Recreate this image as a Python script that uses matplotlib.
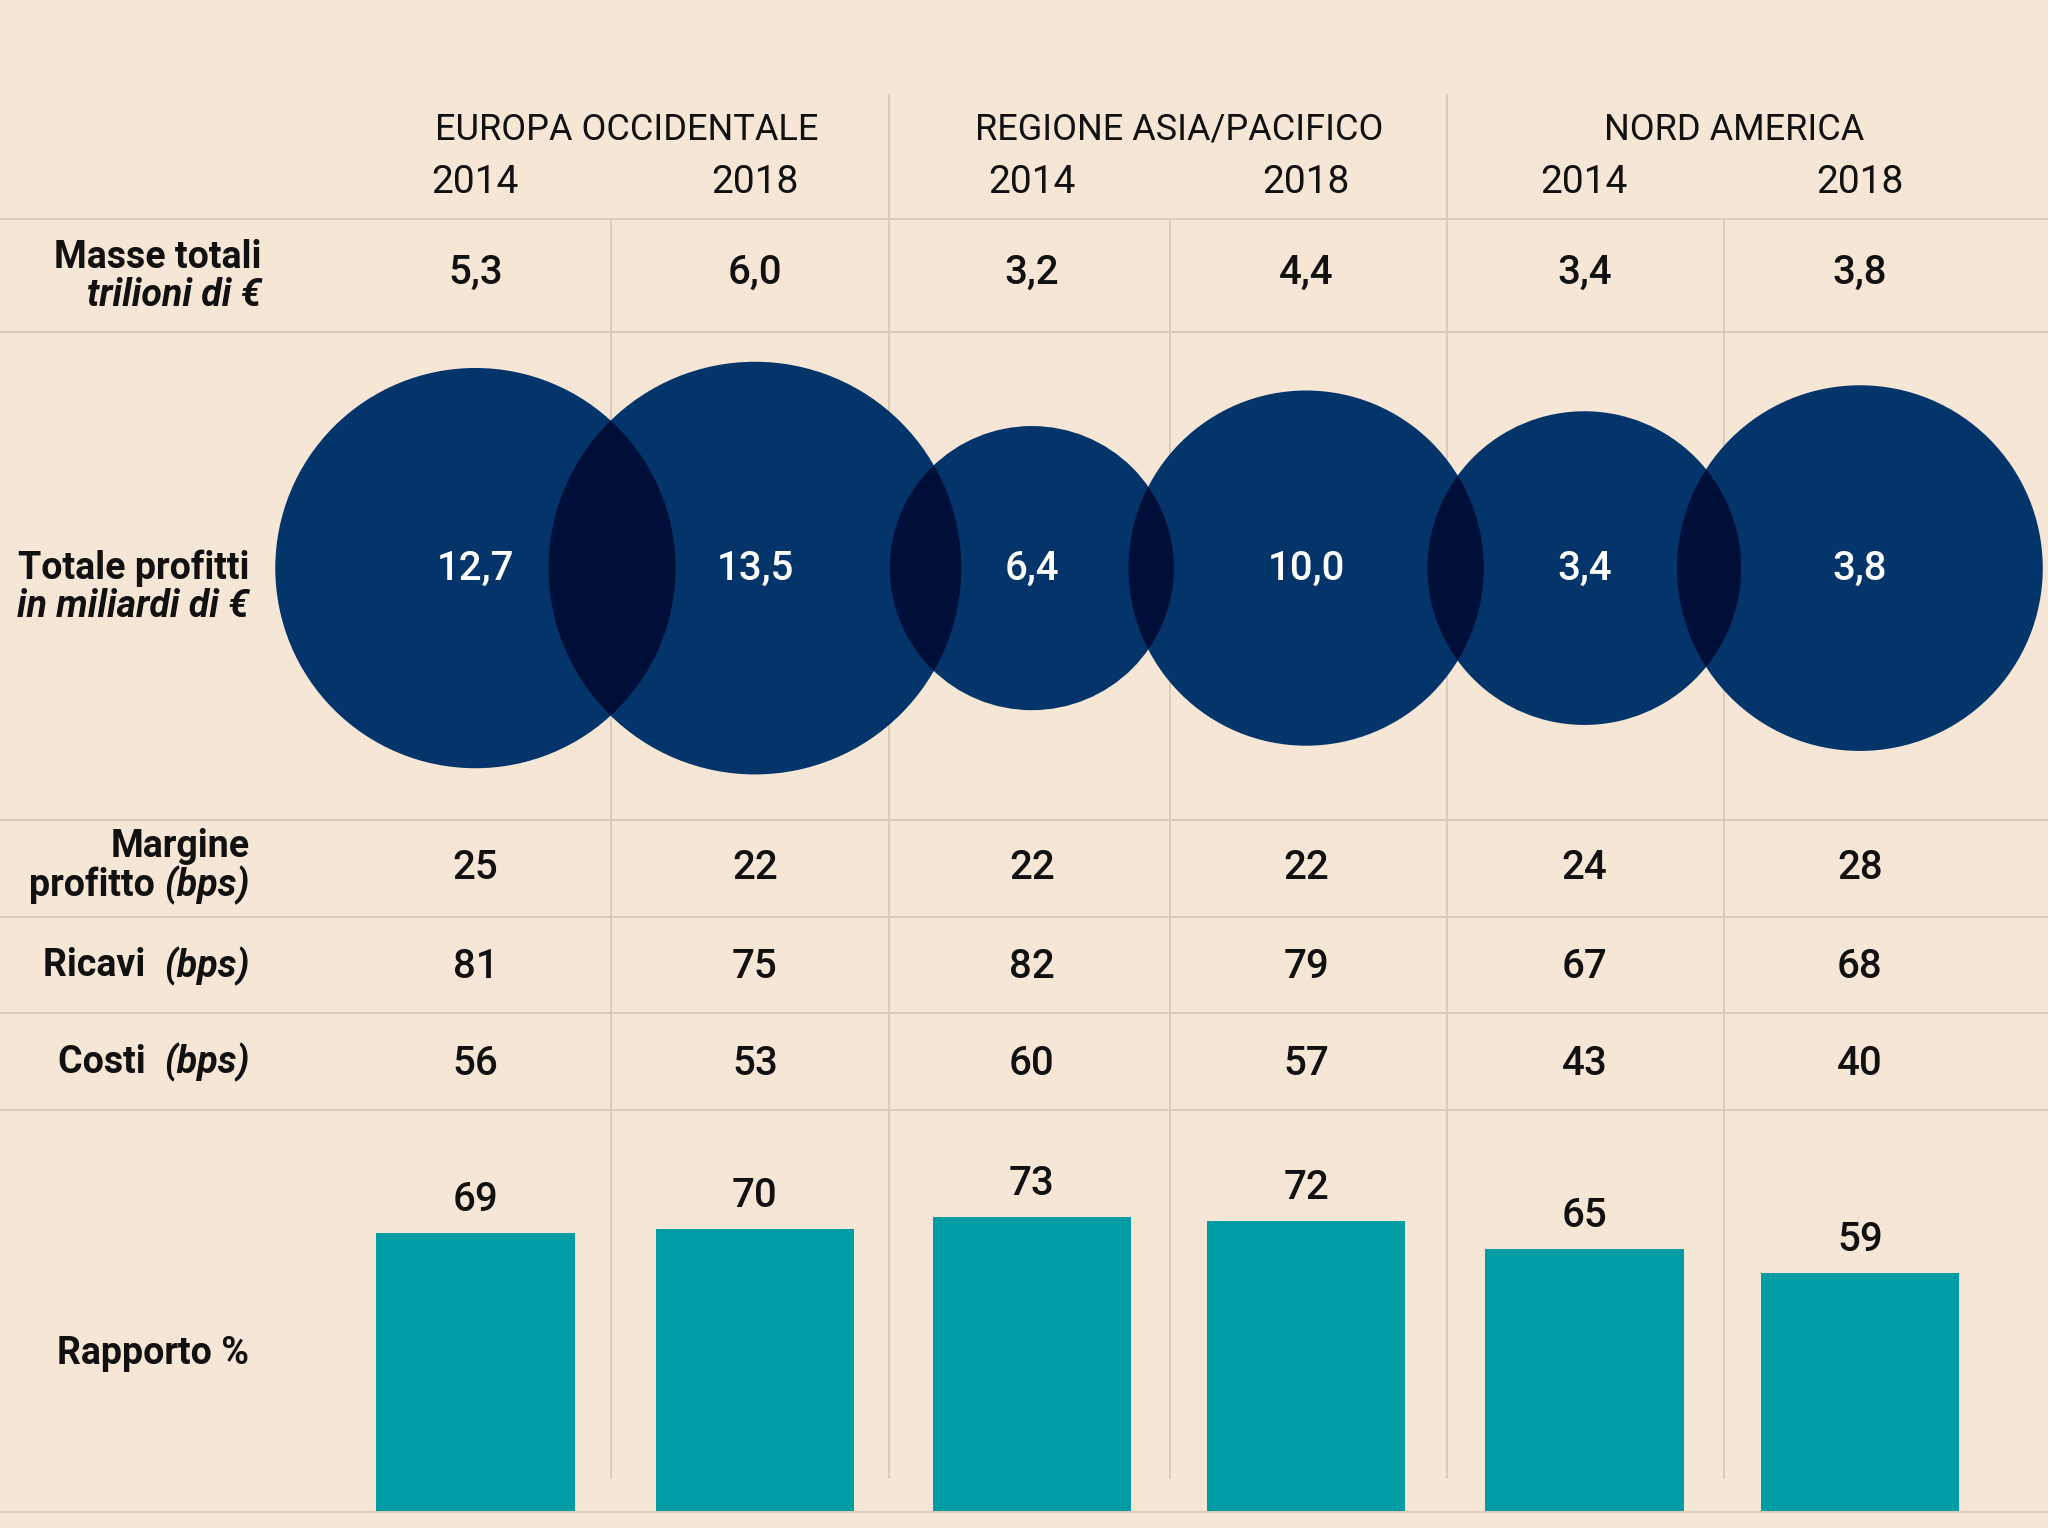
import matplotlib
matplotlib.use("Agg")
import matplotlib.pyplot as plt
from matplotlib.patches import Circle
import numpy as np

#=========================== DATA =====================================#
regions = ['EUROPA OCCIDENTALE', 'REGIONE ASIA/PACIFICO', 'NORD AMERICA']
years = ['2014', '2018']
masse = ['5,3', '6,0', '3,2', '4,4', '3,4', '3,8']
profitti_lbl = ['12,7', '13,5', '6,4', '10,0', '3,4', '3,8']
profitti_size = [12.7, 13.5, 6.4, 10.0, 7.8, 10.6]   # circle sizes as drawn
margine = [25, 22, 22, 22, 24, 28]
ricavi = [81, 75, 82, 79, 67, 68]
costi = [56, 53, 60, 57, 43, 40]
rapporto = [69, 70, 73, 72, 65, 59]

#=========================== STYLE / LAYOUT ===========================#
BG = '#F5E6D6'
NAVY = '#03356B'
NAVY_DARK = '#000F38'
TEAL = '#009CA6'
GRID = '#D9C9B9'
INK = '#111111'
W, H = 1568, 1170                     # layout units
col_x = [364, 578, 790, 1000, 1213, 1424]
hdr_x = [480, 903, 1328]
num_font = 'Roboto'
lab_font = 'Roboto'
dy = 2.5                              # text baseline nudge

fig = plt.figure(figsize=(20.48, 15.28), dpi=100)
fig.patch.set_facecolor(BG)
ax = fig.add_axes([0, 0, 1, 1])
ax.set_xlim(0, W)
ax.set_ylim(H, 0)
ax.axis('off')

# grid lines
for y in [168, 254, 628, 702, 776, 850, 1158]:
  ax.plot([0, W], [y, y], color=GRID, lw=1.3, zorder=1)
for x in [681, 1108]:
  ax.plot([x, x], [73, 1132], color=GRID, lw=1.3, zorder=1)
for x in [468, 896, 1320]:
  ax.plot([x, x], [168, 1132], color=GRID, lw=1.3, zorder=1)

# headers
for x, r in zip(hdr_x, regions):
  ax.text(x, 97 + dy, r, ha='center', va='center', fontsize=26, family=num_font,
          fontweight='normal', color=INK)
for i, x in enumerate(col_x):
  ax.text(x, 137 + dy, years[i % 2], ha='center', va='center', fontsize=28,
          family=num_font, fontweight='normal', color=INK)

# number rows
def num_row(y, vals, color=INK):
  for x, v in zip(col_x, vals):
    ax.text(x, y + dy, str(v), ha='center', va='center', fontsize=29, family=num_font,
            fontweight='medium', color=color, zorder=5)

num_row(206, masse)
num_row(662, margine)
num_row(738, ricavi)
num_row(812, costi)

# circles
k = 43.0
circles = []
for x, s in zip(col_x, profitti_size):
  c = Circle((x, 435), k*np.sqrt(s), facecolor=NAVY, edgecolor='none', zorder=2)
  ax.add_patch(c)
  circles.append((x, k*np.sqrt(s)))
for i in range(len(circles)-1):
  (x0, r0), (x1, r1) = circles[i], circles[i+1]
  clip = Circle((x0, 435), r0, transform=ax.transData)
  dark = Circle((x1, 435), r1, facecolor=NAVY_DARK, edgecolor='none', zorder=3)
  ax.add_patch(dark)
  dark.set_clip_path(clip)
num_row(433, profitti_lbl, color='white')

# left labels
fig.canvas.draw()
renderer = fig.canvas.get_renderer()
inv = ax.transData.inverted()

def label(xr, y, parts):
  x = xr
  for txt, style in reversed(parts):
    t = ax.text(x, y + dy, txt, ha='right', va='center', fontsize=27, family=lab_font,
                fontweight='bold', fontstyle=style, color=INK)
    bb = t.get_window_extent(renderer=renderer)
    x0 = inv.transform((bb.x0, bb.y0))[0]
    x1 = inv.transform((bb.x1, bb.y0))[0]
    x -= (x1 - x0)

label(200, 195, [('Masse totali', 'normal')])
label(200, 224, [('trilioni di €', 'italic')])
label(191, 433, [('Totale profitti', 'normal')])
label(191, 462, [('in miliardi di €', 'italic')])
label(191, 646, [('Margine', 'normal')])
label(191, 675, [('profitto ', 'normal'), ('(bps)', 'italic')])
label(191, 737, [('Ricavi  ', 'normal'), ('(bps)', 'italic')])
label(191, 811, [('Costi  ', 'normal'), ('(bps)', 'italic')])
label(191, 1034, [('Rapporto %', 'normal')])

# bars
bar_ax = fig.add_axes([0, 1 - 1157/H, 1, (1157 - 850)/H])
bar_ax.set_xlim(0, W)
bar_ax.set_ylim(0, (1157 - 850)/3.085)
bar_ax.axis('off')
bar_ax.patch.set_alpha(0)
bar_ax.bar(col_x, rapporto, width=152, color=TEAL, zorder=2)
for x, v in zip(col_x, rapporto):
  bar_ax.text(x, v + 8.2, str(v), ha='center', va='center', fontsize=29,
              family=num_font, fontweight='medium', color=INK)

fig.savefig('out.png', dpi=100, facecolor=BG)
